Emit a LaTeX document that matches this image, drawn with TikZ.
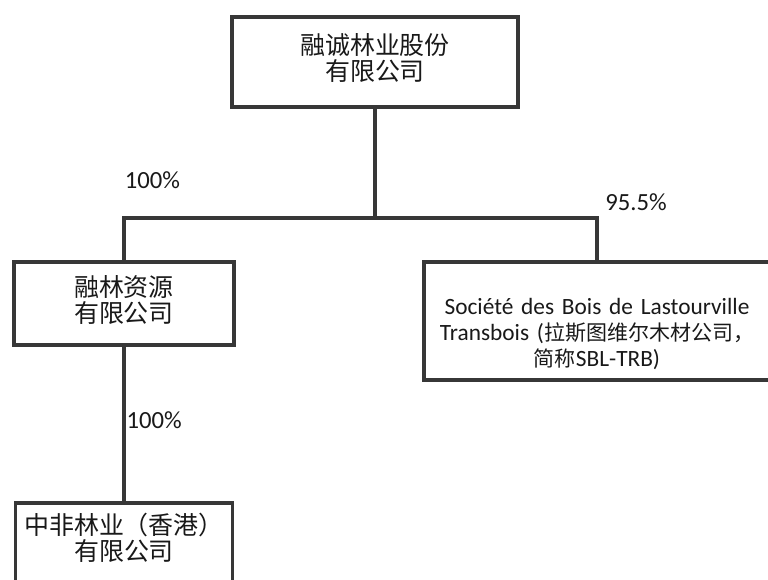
\documentclass[tikz,border=0pt]{standalone}
\usepackage{fontspec}
\setmainfont{Carlito}
\newfontfamily\cjk{Noto Sans CJK SC}[Scale=1.07]
\newfontfamily\cjksmall{Noto Sans CJK SC}[Scale=0.9]
\definecolor{boxgray}{RGB}{55,55,55}
\definecolor{inkgray}{RGB}{25,25,25}

\tikzset{every picture/.style={line width=0.75pt}}
\tikzset{
  orgbox/.style={draw=boxgray, line width=2.6pt, fill=white, inner sep=0pt, align=center, text=inkgray, font=\fontsize{17.5}{19.5}\selectfont, text height=10pt},
  sharetxt/.style={inner sep=0pt, text=inkgray, font=\fontsize{18.5}{20}\selectfont},
  link/.style={draw=boxgray, line width=2.6pt}
}

\begin{document}
\begin{tikzpicture}[x=0.75pt,y=0.75pt,yscale=-1,xscale=1]
    \useasboundingbox (0,0) rectangle (768,580);
    % Text Node
    \node [orgbox, text width=214.5pt, minimum height=67.5pt, text depth=21.25pt] (holding) at (375,62) {{\cjk 融诚林业股份}\\{\cjk 有限公司}};
    % Text Node
    \node [orgbox, text width=165pt, minimum height=62.25pt, text depth=20pt] (ronglin) at (124,303.5) {{\cjk 融林资源}\\{\cjk 有限公司}};
    % Text Node
    \node [orgbox, text width=259.5pt, minimum height=88.5pt, text depth=19.75pt] (sbl) at (597,321) {Société des Bois de Lastourville\\Transbois ({\cjksmall 拉斯图维尔木材公司，}\\{\cjksmall 简称}SBL-TRB)};
    % Text Node
    \node [orgbox, text width=162.75pt, minimum height=67.5pt, text depth=30pt] (zhongfei) at (124,548) {{\cjk 中非林业（香港）}\\{\cjk 有限公司}};
    % Share labels
    \node [sharetxt] (pctronglin) at (152.5,180) {100\%};
    \node [sharetxt] (pctsbl) at (636,202) {95.5\%};
    \node [sharetxt, anchor=west] (pctzhongfei) at (126,420) {100\%};
    % Connection
    \coordinate (split) at (375,218);
    \draw [link] (holding.south) -- (split);
    \draw [link] (ronglin.north) |- (split) -| (sbl.north);
    % Connection
    \draw [link] (ronglin.south) -- (zhongfei.north);
\end{tikzpicture}
\end{document}
